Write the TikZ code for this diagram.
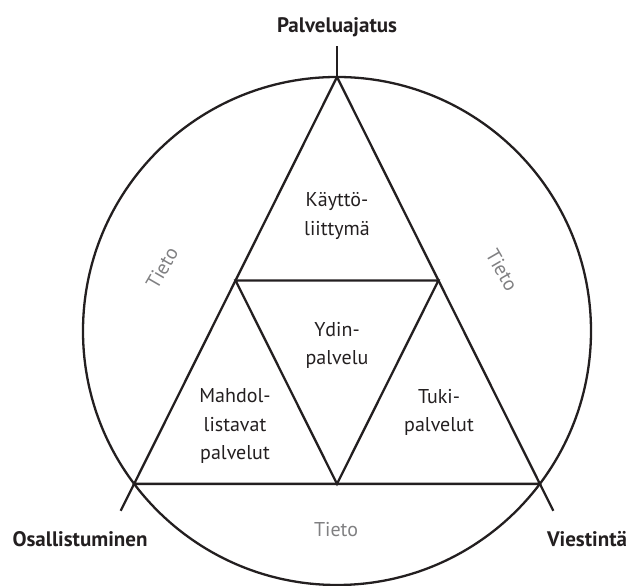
\documentclass[tikz,border=0pt]{standalone}
\usepackage{fontspec}
\setmainfont{PT Sans}
\usepackage{xcolor}
\usepackage{tikz}
\usetikzlibrary{calc}
\definecolor{inkblack}{RGB}{35,31,32}
\definecolor{tietogray}{RGB}{128,128,130}

\begin{document}
\begin{tikzpicture}[x=1pt, y=1pt, line width=2.3pt, color=inkblack,
  every node/.style={inner sep=0pt},
  corner/.style={font=\fontsize{21}{25}\selectfont\bfseries, anchor=base},
  part/.style={font=\fontsize{20}{28.5}\selectfont, align=center},
  tieto/.style={font=\fontsize{20}{24}\selectfont, text=tietogray}]
\useasboundingbox (0,0) rectangle (630,586);

% circle and the three corners of the triangle
\coordinate (O) at (337,255);
\coordinate (A) at (337,509);
\coordinate (B) at (134.1,102.1);
\coordinate (C) at (539.9,102.1);
\coordinate (AB) at ($(A)!0.5!(B)$);
\coordinate (BC) at ($(B)!0.5!(C)$);
\coordinate (CA) at ($(C)!0.5!(A)$);
\coordinate (Aend) at ($(A)!-31pt!(O)$);
\coordinate (Bend) at ($(B)!-30pt!(A)$);
\coordinate (Cend) at ($(C)!-30pt!(A)$);

\draw (O) circle (254);
\draw (A) -- (B) -- (C) -- cycle;
\draw (AB) -- (BC) -- (CA) -- cycle;
\draw (A) -- (Aend);
\draw (B) -- (Bend);
\draw (C) -- (Cend);

\node[corner] (idea) at (337,553) {Palveluajatus};
\node[corner] (osal) at (80,39) {Osallistuminen};
\node[corner] (viest) at (587,39) {Viestintä};

\node[part] (ui) at (337,369.8) {Käyttö-\\liittymä};
\node[part] (core) at (337,240.8) {Ydin-\\palvelu};
\node[part] (enab) at (235,159.5) {Mahdol-\\listavat\\palvelut};
\node[part] (supp) at (439,173.8) {Tuki-\\palvelut};

\node[tieto, rotate=60] (tietoL) at (162,318) {Tieto};
\node[tieto, rotate=-60] (tietoR) at (502,316) {Tieto};
\node[tieto, anchor=base] (tietoB) at (336,49) {Tieto};
\end{tikzpicture}
\end{document}
